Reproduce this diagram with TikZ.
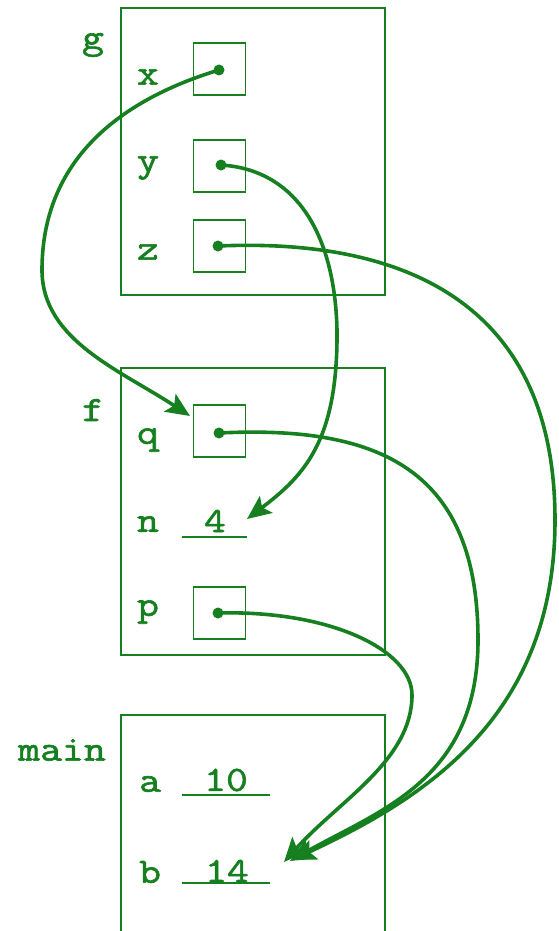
\documentclass[tikz,border=0pt]{standalone}
\usepackage{fontspec}
\newfontfamily\codefont{Latin Modern Mono}[FakeStretch=1.2,FakeBold=1.8]
\usetikzlibrary{arrows.meta}
\definecolor{grn}{RGB}{22,128,32}
\begin{document}
\begin{tikzpicture}[x=1pt,y=-1pt,
  frame/.style={draw=grn,line width=1.4pt,minimum width=264pt,minimum height=287pt,inner sep=0pt},
  cell/.style={draw=grn,line width=1.4pt,minimum size=52pt,inner sep=0pt},
  lbl/.style={text=grn,font=\codefont\fontsize{35.5}{38}\selectfont,inner sep=0pt},
  ptr/.style={draw=grn,line width=3.6pt,-{Stealth[length=24pt,width=21pt,inset=5pt]}},
  dotc/.style={fill=grn,circle,inner sep=0pt,minimum size=11pt},
  uline/.style={draw=grn,line width=1.4pt}]
\useasboundingbox (0,0) rectangle (558,931);
% frames
\node[frame] (fg) at (253,151.5) {};
\node[frame] (ff) at (253,511.5) {};
\draw[grn,line width=1.4pt] (121,931) -- (121,715) -- (385,715) -- (385,931);
% frame names
\node[lbl] (ng) at (93,45) {g};
\node[lbl] (nf) at (93,410) {f};
\node[lbl] (nmain) at (62,750) {main};
% variable names
\node[lbl] (vx) at (148,77) {x};
\node[lbl] (vy) at (148,168) {y};
\node[lbl] (vz) at (148,252) {z};
\node[lbl] (vq) at (148,440) {q};
\node[lbl] (vn) at (148,524) {n};
\node[lbl] (vp) at (148,612) {p};
\node[lbl] (va) at (150,784) {a};
\node[lbl] (vb) at (150,872) {b};
% cells
\node[cell] (bx) at (219.5,69) {};
\node[cell] (by) at (219.5,166) {};
\node[cell] (bz) at (219.5,246) {};
\node[cell] (bq) at (219.5,431) {};
\node[cell] (bp) at (219.5,613) {};
% values
\node[lbl] (val4) at (215,521) {4};
\node[lbl] (val10) at (226,780) {10};
\node[lbl] (val14) at (227,871) {14};
\draw[uline] (182,537) -- (247,537);
\draw[uline] (182,795) -- (270,795);
\draw[uline] (182,883) -- (270,883);
% dots
\node[dotc] (dx) at (219,70) {};
\node[dotc] (dy) at (221,165) {};
\node[dotc] (dz) at (218,246) {};
\node[dotc] (dq) at (219,433) {};
\node[dotc] (dp) at (218,613) {};
% arrow targets
\coordinate (tq) at (190,416);
\coordinate (tn) at (247,519);
\coordinate (tb1) at (284,862);
\coordinate (tb2) at (290,861);
\coordinate (tb3) at (292,860);
% pointers
\draw[ptr] (dx.center) .. controls (120,100) and (42,160) .. (42,270)
   .. controls (42,340) and (120,370) .. (tq);
\draw[ptr] (dy.center) .. controls (300,170) and (335,240) .. (337,330)
   .. controls (338,440) and (305,475) .. (tn);
\draw[ptr] (dz.center) .. controls (400,238) and (555,300) .. (555,520)
   .. controls (555,720) and (420,800) .. (tb3);
\draw[ptr] (dq.center) .. controls (380,425) and (478,470) .. (478,640)
   .. controls (478,780) and (380,810) .. (tb2);
\draw[ptr] (dp.center) .. controls (330,610) and (412,650) .. (412,695)
   .. controls (412,760) and (340,800) .. (tb1);
\end{tikzpicture}
\end{document}
